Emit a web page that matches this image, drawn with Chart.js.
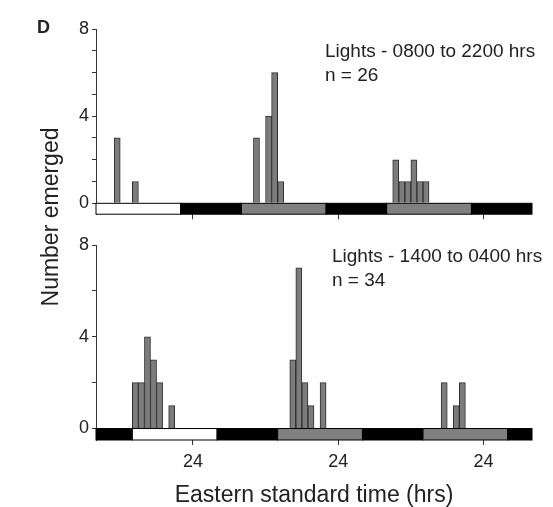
<!DOCTYPE html>
<html>
<head>
<meta charset="utf-8">
<script src="https://cdn.jsdelivr.net/npm/chart.js@4.4.1/dist/chart.umd.min.js"></script>
<style>
  body { margin: 0; background: #fff; width: 553px; height: 507px; position: relative; overflow: hidden;
         font-family: "Liberation Sans", Arial, sans-serif; color: #222; }
  canvas { position: absolute; left: 0; }
  #chart1 { top: 0; }
  #chart2 { top: 228px; }
  .note { position: absolute; font-size: 19px; line-height: 24px; white-space: nowrap; }
  #panel { position: absolute; left: 37px; top: 18px; font-size: 18px; line-height: 18px; font-weight: bold; }
  #ylab { position: absolute; left: 50px; top: 217px; font-size: 23px; white-space: nowrap;
          transform: translate(-50%, -50%) rotate(-90deg); }
</style>
</head>
<body>
<canvas id="chart1" width="553" height="228"></canvas>
<canvas id="chart2" width="553" height="279"></canvas>
<div id="panel">D</div>
<div id="ylab">Number emerged</div>
<div class="note" style="left:325px;top:39px">Lights - 0800 to 2200 hrs<br>n = 26</div>
<div class="note" style="left:332px;top:244px">Lights - 1400 to 0400 hrs<br>n = 34</div>
<script>
// hourly bins (start hour, counted from midnight of day 0) and number emerged
const topBinHours = [11, 14, 34, 36, 37, 38, 57, 58, 59, 60, 61, 62];
const topCounts = [3, 1, 3, 4, 6, 1, 2, 1, 1, 2, 1, 1];
const bottomBinHours = [14, 15, 16, 17, 18, 20, 40, 41, 42, 43, 45, 65, 67, 68];
const bottomCounts = [2, 2, 4, 3, 2, 1, 3, 7, 2, 1, 2, 2, 1, 2];

// light / dark bars under each histogram: [start hour, end hour, state]
const topLight = [[8, 22, 'light'], [22, 32, 'dark'], [32, 46, 'subj'], [46, 56, 'dark'], [56, 70, 'subj'], [70, 80, 'dark']];
const bottomLight = [[8, 14, 'dark'], [14, 28, 'light'], [28, 38, 'dark'], [38, 52, 'subj'], [52, 62, 'dark'], [62, 76, 'subj'], [76, 80, 'dark']];

const xTicks = [24, 48, 72];
const yTicks = [0, 1, 2, 3, 4, 5, 6, 7, 8];
const yLabels = [0, 4, 8];

const stateColor = { light: '#ffffff', dark: '#000000', subj: '#808080' };
const tickFont = { family: '"Liberation Sans", Arial, sans-serif', size: 18 };

const lightBar = {
  id: 'lightBar',
  beforeDatasetsDraw(chart, args, opts) {
    const { ctx, scales: { x, y } } = chart;
    const y0 = y.getPixelForValue(0), y1 = y.getPixelForValue(-0.5);
    ctx.save();
    ctx.lineWidth = 1;
    ctx.strokeStyle = '#000';
    opts.segments.forEach(([a, b, s]) => {
      const x0 = x.getPixelForValue(a), x1 = x.getPixelForValue(b);
      ctx.fillStyle = stateColor[s];
      ctx.fillRect(x0, y0, x1 - x0, y1 - y0);
      ctx.strokeRect(x0, y0, x1 - x0, y1 - y0);
    });
    ctx.restore();
  }
};

function makeChart(id, hours, counts, segments, showX, padTop, xHeight) {
  return new Chart(document.getElementById(id), {
    type: 'bar',
    data: {
      datasets: [{
        data: hours.map((h, i) => ({ x: h + 0.5, y: counts[i] })),
        backgroundColor: '#7c7c7c',
        borderColor: '#2e2e2e',
        borderWidth: 1,
        barPercentage: 1,
        categoryPercentage: 1
      }]
    },
    options: {
      responsive: false,
      animation: false,
      layout: { padding: { left: 0, right: 21, top: padTop, bottom: 0 } },
      plugins: {
        legend: { display: false },
        tooltip: { enabled: false },
        lightBar: { segments: segments }
      },
      scales: {
        x: {
          type: 'linear',
          min: 8,
          max: 80,
          offset: false,
          afterBuildTicks: s => { s.ticks = xTicks.map(v => ({ value: v })); },
          afterFit: s => { s.height = xHeight; },
          grid: { offset: false, drawOnChartArea: false, drawTicks: true, tickLength: 5, color: '#333' },
          border: { display: false },
          ticks: { display: showX, callback: v => String(v % 24 === 0 ? 24 : v), color: '#222', font: tickFont, padding: 6, maxRotation: 0 },
          title: {
            display: showX,
            text: 'Eastern standard time (hrs)',
            color: '#222',
            font: { family: '"Liberation Sans", Arial, sans-serif', size: 23, lineHeight: 1 },
            padding: { top: 0, bottom: 0 }
          }
        },
        y: {
          min: -0.5,
          max: 8,
          afterBuildTicks: s => { s.ticks = yTicks.map(v => ({ value: v })); },
          afterFit: s => { s.width = 96; },
          grid: { drawOnChartArea: false, drawTicks: true, tickLength: 4, color: '#333' },
          border: { display: true, color: '#333', width: 1 },
          ticks: { callback: v => yLabels.includes(v) ? String(v) : '', color: '#222', font: tickFont, padding: 3 }
        }
      }
    },
    plugins: [lightBar]
  });
}

makeChart('chart1', topBinHours, topCounts, topLight, false, 29, 11);
makeChart('chart2', bottomBinHours, bottomCounts, bottomLight, true, 17, 67);
</script>
</body>
</html>
